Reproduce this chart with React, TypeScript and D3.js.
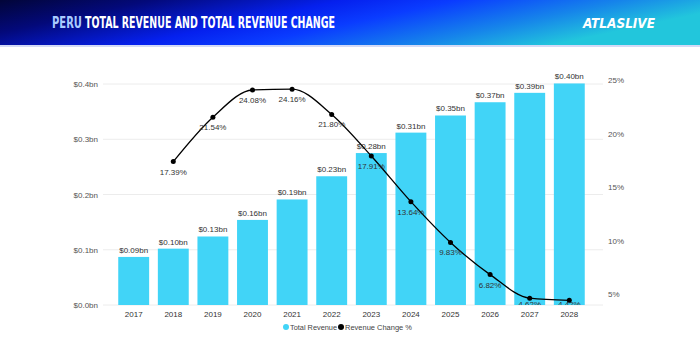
import * as d3 from 'd3';

// Data
const years = ['2017', '2018', '2019', '2020', '2021', '2022', '2023', '2024', '2025', '2026', '2027', '2028'];
const revenue = [0.087, 0.102, 0.124, 0.154, 0.191, 0.233, 0.275, 0.312, 0.343, 0.367, 0.384, 0.401];
const revenueLabels = ['$0.09bn', '$0.10bn', '$0.13bn', '$0.16bn', '$0.19bn', '$0.23bn', '$0.28bn', '$0.31bn', '$0.35bn', '$0.37bn', '$0.39bn', '$0.40bn'];
const changeYears = ['2018', '2019', '2020', '2021', '2022', '2023', '2024', '2025', '2026', '2027', '2028'];
const change = [17.39, 21.54, 24.08, 24.16, 21.8, 17.91, 13.64, 9.83, 6.82, 4.62, 4.42];
const leftTicks = [0, 0.1, 0.2, 0.3, 0.4];
const rightTicks = [5, 10, 15, 20, 25];

const W = 700;
const H = 350;
const font = '"Liberation Sans", Arial, sans-serif';
const titleFont = '"DejaVu Sans Condensed", "DejaVu Sans", sans-serif';
const sx = 0.75; // horizontal squeeze for the condensed headline look

export default function App() {
  const x = d3.scaleBand().domain(years).range([103, 600]).paddingInner(0.22).paddingOuter(0.385);
  const yL = d3.scaleLinear().domain([0, 0.4]).range([305, 84]);
  const yR = d3.scaleLinear().domain([3.98, 24.64]).range([305, 84]);

  const cx = (yr: string) => (x(yr) || 0) + x.bandwidth() / 2;
  const pts = changeYears.map((yr, i) => ({ x: cx(yr), y: yR(change[i]), v: change[i] }));
  const line = d3
    .line<{ x: number; y: number }>()
    .x((d) => d.x)
    .y((d) => d.y)
    .curve(d3.curveMonotoneX);

  return (
    <svg width={W} height={H} style={{ position: 'absolute', left: 0, top: 0, background: '#fff' }}>
      <defs>
        <linearGradient id="hdr" x1="0" y1="0" x2="1" y2="0.3">
          <stop offset="0%" stopColor="#020538" />
          <stop offset="20%" stopColor="#03097a" />
          <stop offset="45%" stopColor="#0520ee" />
          <stop offset="60%" stopColor="#0a3cff" />
          <stop offset="82%" stopColor="#1685ea" />
          <stop offset="100%" stopColor="#22c6dc" />
        </linearGradient>
        <clipPath id="plot">
          <rect x={100} y={40} width={505} height={265} />
        </clipPath>
      </defs>

      {/* header */}
      <rect x={0} y={0} width={W} height={45} fill="url(#hdr)" />
      <rect x={0} y={45} width={W} height={2} fill="#d3daf6" />
      <g transform={`translate(52,28) scale(${sx},1)`}>
        <text x={0} y={0} fontFamily={titleFont} fontWeight="bold" fontSize={15} textLength={30 / sx} lengthAdjust="spacingAndGlyphs" fill="#a9cbff">
          PERU
        </text>
      </g>
      <g transform={`translate(85,28) scale(${sx},1)`}>
        <text x={0} y={0} fontFamily={titleFont} fontWeight="bold" fontSize={15} textLength={250 / sx} lengthAdjust="spacingAndGlyphs" fill="#fff">
          TOTAL REVENUE AND TOTAL REVENUE CHANGE
        </text>
      </g>
      <text
        x={583}
        y={28}
        fontFamily={titleFont}
        fontWeight="bold"
        fontStyle="italic"
        fontSize={14}
        textLength={72}
        lengthAdjust="spacingAndGlyphs"
        fill="#fff"
      >
        ATLASLIVE
      </text>

      {/* grid + left axis */}
      {leftTicks.map((t) => (
        <g key={t}>
          <line x1={103} x2={603} y1={yL(t)} y2={yL(t)} stroke="#ececec" strokeWidth={1} />
          <text x={98} y={yL(t) + 3} textAnchor="end" fontFamily={font} fontSize={8} fill="#555">
            {`$${t.toFixed(1)}bn`}
          </text>
        </g>
      ))}

      {/* right axis */}
      {rightTicks.map((t) => (
        <text key={t} x={608} y={yR(t) + 3} fontFamily={font} fontSize={8} fill="#555">
          {`${t}%`}
        </text>
      ))}

      {/* bars */}
      {years.map((yr, i) => (
        <g key={yr}>
          <rect x={x(yr)} y={yL(revenue[i])} width={x.bandwidth()} height={yL(0) - yL(revenue[i])} fill="#41d4f7" />
          <text x={cx(yr)} y={yL(revenue[i]) - 4} textAnchor="middle" fontFamily={font} fontSize={8} fill="#333">
            {revenueLabels[i]}
          </text>
          <text x={cx(yr)} y={317} textAnchor="middle" fontFamily={font} fontSize={8} fill="#333">
            {yr}
          </text>
        </g>
      ))}

      {/* change line */}
      <path d={line(pts) || ''} fill="none" stroke="#000" strokeWidth={1.3} />
      <g clipPath="url(#plot)">
        {pts.map((p, i) => (
          <text key={i} x={p.x} y={Math.min(p.y + 13, 306.5)} textAnchor="middle" fontFamily={font} fontSize={8} fill="#333">
            {`${p.v.toFixed(2)}%`}
          </text>
        ))}
      </g>
      {pts.map((p, i) => (
        <circle key={i} cx={p.x} cy={p.y} r={2.5} fill="#000" />
      ))}

      {/* legend */}
      <circle cx={286} cy={327} r={3} fill="#41d4f7" />
      <text x={290} y={330} fontFamily={font} fontSize={7.5} textLength={47} lengthAdjust="spacingAndGlyphs" fill="#444">
        Total Revenue
      </text>
      <circle cx={341} cy={327} r={3} fill="#000" />
      <text x={345} y={330} fontFamily={font} fontSize={7.5} textLength={67} lengthAdjust="spacingAndGlyphs" fill="#444">
        Revenue Change %
      </text>
    </svg>
  );
}
